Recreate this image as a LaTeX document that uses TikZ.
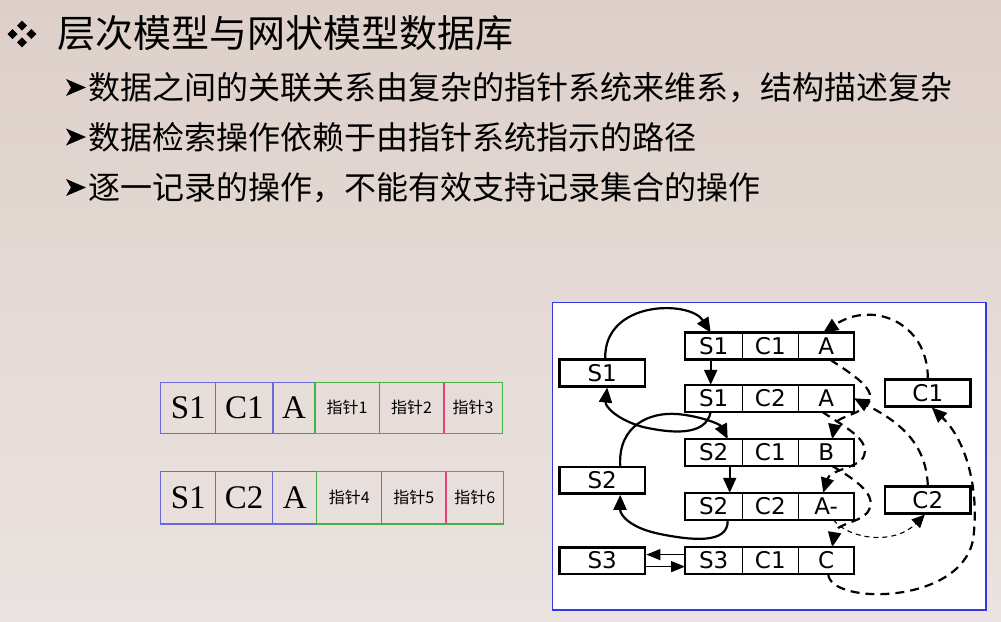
\documentclass[tikz,border=0pt]{standalone}
\usepackage{fontspec}
\newfontfamily\zhfont{Noto Sans CJK SC}
\newfontfamily\rsans{DejaVu Sans}
\newfontfamily\tabserif{Liberation Serif}
\usetikzlibrary{arrows.meta}

\definecolor{paper}{RGB}{235,227,225}
\definecolor{papertop}{RGB}{222,208,201}
\definecolor{cellblue}{RGB}{105,105,215}
\definecolor{cellgreen}{RGB}{70,175,70}
\definecolor{cellpink}{RGB}{232,64,125}
\definecolor{frameblue}{RGB}{55,55,225}

\begin{document}
\begin{tikzpicture}[x=1pt,y=-1pt,
  tip/.style={-{Triangle[length=15pt,width=13pt]}},
  solidlink/.style={line width=2.2pt,tip},
  chainlink/.style={line width=2.2pt,dash pattern=on 9pt off 6pt,tip},
  finelink/.style={line width=1.1pt,dash pattern=on 5pt off 4pt,-{Triangle[length=13pt,width=12pt]}},
  thinlink/.style={line width=1.4pt,-{Triangle[length=14pt,width=11pt]}},
  fld/.style={draw=black,line width=1.3pt,fill=white,minimum height=27pt,inner sep=0pt,outer sep=0pt,font=\rsans\fontsize{23}{23}\selectfont},
  ownerbox/.style={draw=black,line width=2.6pt,fill=white,minimum width=85.7pt,minimum height=26.5pt,inner sep=0pt,font=\rsans\fontsize{23}{23}\selectfont},
  recframe/.style={draw=black,line width=2.6pt},
  bluecell/.style={draw=cellblue,line width=1.3pt,inner sep=0pt,outer sep=0pt,font=\tabserif\fontsize{33}{33}\selectfont},
  ptrcell/.style={inner sep=0pt,outer sep=0pt,font=\zhfont\fontsize{16}{16}\selectfont},
  heading/.style={anchor=west,inner sep=0pt,font=\zhfont\fontsize{38}{38}\selectfont},
  point/.style={anchor=west,inner sep=0pt,font=\zhfont\fontsize{32}{32}\selectfont},
]
\useasboundingbox (0,0) rectangle (1001,621);
\shade[top color=papertop,bottom color=paper] (0,0) rectangle (1001,621);

% heading with its four-diamond bullet
\foreach \cx/\cy in {22/25.7,12.5/34,31.4/34,22/42.3}
  \fill (\cx,\cy-5) -- (\cx+5,\cy) -- (\cx,\cy+5) -- (\cx-5,\cy) -- cycle;
\node[heading] (title) at (57,33) {层次模型与网状模型数据库};

% sub-points with arrowhead bullets
\foreach \y in {87.5,137,187.5}
  \fill (66,\y-8.5) -- (86,\y) -- (66,\y+8.5) -- (71,\y) -- cycle;
\node[point] (line1) at (88,87.5) {数据之间的关联关系由复杂的指针系统来维系，结构描述复杂};
\node[point] (line2) at (88,137) {数据检索操作依赖于由指针系统指示的路径};
\node[point] (line3) at (88,187.5) {逐一记录的操作，不能有效支持记录集合的操作};

% record layouts with pointer fields
\node[bluecell,minimum width=55pt,minimum height=51pt] (t1s) at (188.2,407.8) {S1};
\node[bluecell,minimum width=57.3pt,minimum height=51pt] (t1c) at (244.3,407.8) {C1};
\node[bluecell,minimum width=42pt,minimum height=51pt] (t1a) at (294,407.8) {A};
\node[ptrcell,minimum width=64.3pt,minimum height=51pt] (t1p1) at (347.1,407.8) {指针1};
\node[ptrcell,minimum width=64.7pt,minimum height=51pt] (t1p2) at (411.6,407.8) {指针2};
\node[ptrcell,minimum width=58.3pt,minimum height=51pt] (t1p3) at (473.1,407.8) {指针3};
\draw[cellpink,line width=1.3pt] (t1p1.north east) -- (t1p1.south east)
  (t1p2.north east) -- (t1p2.south east);
\draw[cellgreen,line width=1.3pt] (t1p1.north west) rectangle (t1p3.south east);

\node[bluecell,minimum width=55pt,minimum height=52.3pt] (t2s) at (188.2,497.8) {S1};
\node[bluecell,minimum width=57pt,minimum height=52.3pt] (t2c) at (244.2,497.8) {C2};
\node[bluecell,minimum width=44pt,minimum height=52.3pt] (t2a) at (294.7,497.8) {A};
\node[ptrcell,minimum width=65pt,minimum height=52.3pt] (t2p1) at (349.2,497.8) {指针4};
\node[ptrcell,minimum width=64.3pt,minimum height=52.3pt] (t2p2) at (413.9,497.8) {指针5};
\node[ptrcell,minimum width=57.3pt,minimum height=52.3pt] (t2p3) at (474.7,497.8) {指针6};
\draw[cellpink,line width=1.3pt] (t2p1.north east) -- (t2p1.south east)
  (t2p2.north east) -- (t2p2.south east);
\draw[cellgreen,line width=1.3pt] (t2p1.north west) rectangle (t2p3.south east);

% network panel
\draw[frameblue,line width=1.5pt,fill=white] (552.7,302.7) rectangle (986,610);

\foreach \n/\y/\s/\c/\a in {1/346.2/S1/C1/A,2/398.3/S1/C2/A,3/452.5/S2/C1/B,4/506.3/S2/C2/A-,5/560.6/S3/C1/C}{
  \node[fld,minimum width=57.3pt] (r\n-s) at (713.7,\y) {\s};
  \node[fld,minimum width=56pt] (r\n-c) at (770.3,\y) {\c};
  \node[fld,minimum width=55.7pt] (r\n-a) at (826.2,\y) {\a};
  \draw[recframe] (r\n-s.north west) rectangle (r\n-a.south east);
}

\node[ownerbox] (s1) at (602.2,373) {S1};
\node[ownerbox] (s2) at (602.2,480.3) {S2};
\node[ownerbox] (s3) at (602.2,560.6) {S3};
\node[ownerbox] (c1) at (927.8,393) {C1};
\node[ownerbox] (c2) at (927.8,500) {C2};

% S chains (solid)
\draw[solidlink] ([xshift=3pt]s1.north) .. controls (604,300) and (690,300) .. ([xshift=-3pt]r1-s.north);
\draw[solidlink] ([xshift=-3pt]r1-s.south) -- ([xshift=-3pt]r2-s.north);
\draw[solidlink] ([xshift=-3pt]r2-s.south) .. controls (706,437) and (670,433) .. (643,427)
  .. controls (618,420) and (605,407) .. ([xshift=5pt]s1.south);
\draw[solidlink] ([xshift=18pt]s2.north) .. controls (618,425) and (650,412) .. (677,414)
  .. controls (700,416) and (720,424) .. ([xshift=14pt]r3-s.north);
\draw[solidlink] ([xshift=16pt]r3-s.south) -- ([xshift=16pt]r4-s.north);
\draw[solidlink] ([xshift=14pt]r4-s.south) .. controls (729,545) and (690,540) .. (660,534)
  .. controls (630,528) and (620,515) .. ([xshift=18pt]s2.south);
\draw[thinlink] ([yshift=6pt]r5-s.west) -- ([yshift=6pt]s3.east);
\draw[thinlink] ([yshift=-6pt]s3.east) -- ([yshift=-6pt]r5-s.west);

% C chains (dashed)
\draw[chainlink] (c1.north) .. controls (928,322) and (872,300) .. ([xshift=-3pt]r1-a.north);
\draw[chainlink] ([xshift=4pt]r1-a.south) .. controls (858,378) and (882,393) .. (864,408)
  .. controls (852,416) and (836,418) .. ([xshift=6pt]r3-a.north);
\draw[chainlink] ([xshift=-4pt]r2-a.south) .. controls (846,428) and (872,440) .. (863,458)
  .. controls (856,468) and (830,470) .. ([xshift=-3pt]r4-a.north);
\draw[chainlink] ([xshift=6pt]r3-a.south) .. controls (856,480) and (880,496) .. (867,513)
  .. controls (858,523) and (836,524) .. ([xshift=6pt]r5-a.north);
\draw[finelink] ([xshift=7pt]r4-a.south) .. controls (850,540) and (895,545) .. ([xshift=-3pt]c2.south);
\draw[chainlink] ([xshift=2pt]r5-a.south) .. controls (830,605) and (960,605) .. (973,540)
  .. controls (980,490) and (966,440) .. ([xshift=4pt]c1.south);
\draw[chainlink] (c2.north) .. controls (926,440) and (895,420) .. (r2-a.east);
\end{tikzpicture}
\end{document}
